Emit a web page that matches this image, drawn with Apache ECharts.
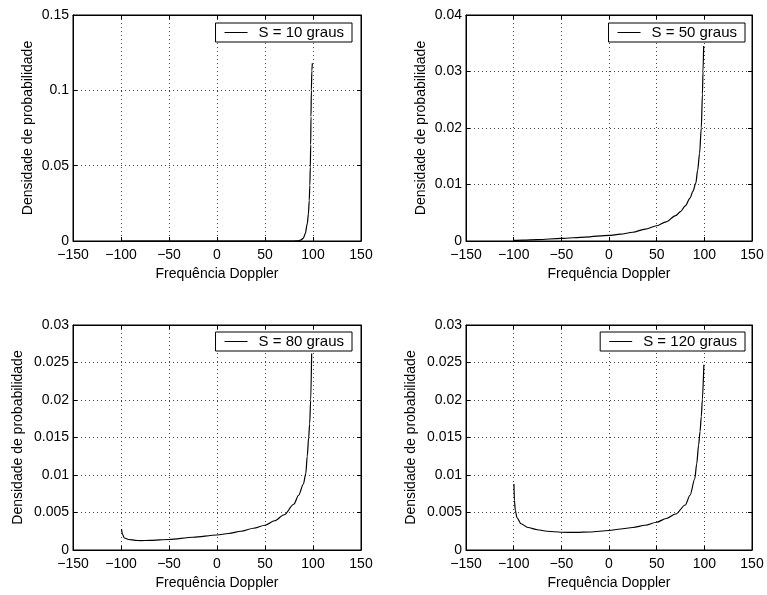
<!DOCTYPE html>
<html>
<head>
    <meta charset="utf-8">
    <title>Densidade de probabilidade - Doppler</title>
    <script src="https://cdn.jsdelivr.net/npm/echarts@6/dist/echarts.min.js"></script>
    <style>
        html, body { margin: 0; padding: 0; background: #fff; }
        #chart { width: 767px; height: 595px; }
    </style>
</head>
<body>
<div id="chart"></div>
<script>
    // eixos
    var xTicks = [-150, 150, 50];
    var yMax = [0.15, 0.04, 0.03, 0.03];
    var yStep = [0.05, 0.01, 0.005, 0.005];
    var legendas = ['S = 10 graus', 'S = 50 graus', 'S = 80 graus', 'S = 120 graus'];

    // curvas: [frequencia, densidade]
    var s10 = [[-100, 0], [80, 0], [84, 0.0001], [87, 0.0006], [89.9, 0.0018], [92, 0.005],
        [94.1, 0.0117], [95.2, 0.018], [96.1, 0.027], [96.7, 0.037], [97.2, 0.049],
        [97.6, 0.064], [97.9, 0.0825], [98.3, 0.1], [98.8, 0.113], [99.3, 0.118]];
    var s50 = [[-100, 0.0001], [-90, 0.00015], [-75, 0.00025], [-50, 0.00045], [-25, 0.0007],
        [0, 0.001], [12, 0.0012], [25, 0.00155], [38, 0.0021], [50, 0.0027], [60, 0.0034],
        [70, 0.0045], [75, 0.0052], [80, 0.0062], [85, 0.0076], [88, 0.0088], [91, 0.0102],
        [93, 0.0125], [95, 0.0155], [96.8, 0.02], [98, 0.026], [98.6, 0.03], [99.3, 0.0345]];
    var s80 = [[-99.5, 0.0028], [-98.5, 0.0021], [-96.5, 0.0016], [-92, 0.0014], [-85, 0.00128],
        [-80, 0.00125], [-70, 0.00128], [-50, 0.0014], [-25, 0.0017], [0, 0.002], [12, 0.0022],
        [25, 0.0025], [38, 0.0029], [50, 0.0033], [60, 0.0039], [70, 0.0047], [80, 0.0061],
        [85, 0.0073], [90, 0.0088], [92.5, 0.0102], [94, 0.0125], [95.5, 0.015], [96.5, 0.0168],
        [97.6, 0.02], [98.6, 0.0262]];
    var s120 = [[-99.7, 0.0088], [-99.2, 0.0066], [-98.3, 0.0053], [-96.5, 0.0043], [-92.3, 0.0035],
        [-85, 0.003], [-75, 0.0027], [-65, 0.0025], [-50, 0.00237], [-35, 0.00235], [-20, 0.0024],
        [0, 0.0026], [12, 0.0028], [25, 0.003], [38, 0.0033], [50, 0.0037], [60, 0.0042],
        [70, 0.0048], [80, 0.006], [85, 0.0073], [90, 0.0095], [92, 0.0115], [94, 0.014],
        [95.5, 0.0158], [96.8, 0.0178], [97.9, 0.02], [99.5, 0.0247]];
    var curvas = [s10, s50, s80, s120];

    var fonte = 'Liberation Sans, Arial, Helvetica, sans-serif';
    var grids = [
        {left: 73, top: 15, width: 288, height: 226},
        {left: 466, top: 15, width: 286, height: 226},
        {left: 73, top: 325, width: 288, height: 225},
        {left: 466, top: 325, width: 286, height: 225}
    ];
    var legPos = [
        {right: 415, top: 23}, {right: 22, top: 23},
        {right: 415, top: 332}, {right: 22, top: 332}
    ];
    var yNameGap = [38, 38, 48, 48];

    function menos(v) {
        return String(v).replace('-', '\u2212');
    }

    var pontilhado = {show: true, lineStyle: {color: '#444', type: [1, 3], width: 1}};
    var linhaEixo = {show: true, onZero: false, lineStyle: {color: '#000', width: 1}};
    var tick = {show: true, inside: true, length: 4, lineStyle: {color: '#000'}};

    var xAxes = [], yAxes = [], series = [], legend = [];
    for (var i = 0; i < 4; i++) {
        xAxes.push({
            type: 'value', gridIndex: i, min: xTicks[0], max: xTicks[1], interval: xTicks[2],
            axisLine: linhaEixo, axisTick: tick, splitLine: pontilhado,
            axisLabel: {color: '#000', fontSize: 14, fontFamily: fonte, margin: 7, formatter: menos},
            name: 'Frequência Doppler', nameLocation: 'middle', nameGap: 26,
            nameTextStyle: {color: '#000', fontSize: 14, fontFamily: fonte}
        });
        xAxes.push({
            type: 'value', gridIndex: i, position: 'top', min: xTicks[0], max: xTicks[1], interval: xTicks[2],
            axisLine: linhaEixo, axisTick: tick, axisLabel: {show: false}, splitLine: {show: false}
        });
        yAxes.push({
            type: 'value', gridIndex: i, min: 0, max: yMax[i], interval: yStep[i],
            axisLine: linhaEixo, axisTick: tick, splitLine: pontilhado,
            axisLabel: {color: '#000', fontSize: 14, fontFamily: fonte, margin: 4},
            name: 'Densidade de probabilidade', nameLocation: 'middle', nameGap: yNameGap[i],
            nameTextStyle: {color: '#000', fontSize: 14, fontFamily: fonte}
        });
        yAxes.push({
            type: 'value', gridIndex: i, position: 'right', min: 0, max: yMax[i], interval: yStep[i],
            axisLine: linhaEixo, axisTick: tick, axisLabel: {show: false}, splitLine: {show: false}
        });
        series.push({
            name: legendas[i], type: 'line', xAxisIndex: 2 * i, yAxisIndex: 2 * i,
            data: curvas[i], symbol: 'none', showSymbol: false, smooth: 0.3, smoothMonotone: 'x',
            lineStyle: {color: '#000', width: 1.2}, itemStyle: {color: '#000'}
        });
        legend.push({
            data: [legendas[i]], right: legPos[i].right, top: legPos[i].top,
            orient: 'horizontal', backgroundColor: '#fff',
            borderColor: '#000', borderWidth: 1, borderRadius: 0, padding: [2, 8, 2, 9],
            icon: 'rect', itemWidth: 23, itemHeight: 1,
            textStyle: {color: '#000', fontSize: 15, fontFamily: fonte, padding: [0, 0, 0, 6]}
        });
    }

    var grafico = echarts.init(document.getElementById('chart'));
    grafico.setOption({
        backgroundColor: '#fff',
        animation: false,
        grid: grids.map(function (g) {
            return Object.assign({show: true, borderColor: '#000', borderWidth: 1}, g);
        }),
        xAxis: xAxes,
        yAxis: yAxes,
        legend: legend,
        series: series
    });
</script>
</body>
</html>
